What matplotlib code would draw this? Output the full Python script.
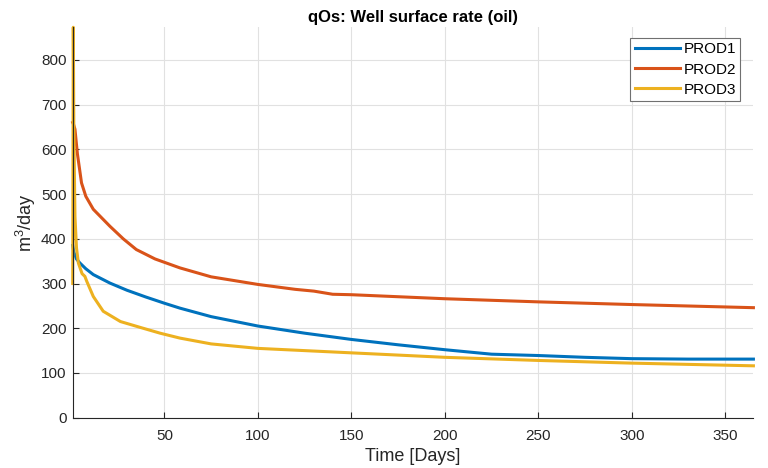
import matplotlib.pyplot as plt

plt.rcParams['font.family'] = ['Liberation Sans', 'DejaVu Sans']
plt.rcParams['mathtext.fontset'] = 'custom'
plt.rcParams['mathtext.rm'] = 'Liberation Sans'
plt.rcParams['mathtext.it'] = 'Liberation Sans'

# oil surface rates per producer, m3/day
days_p1 = [1, 1.6, 3, 4.8, 8, 12, 20.9, 30, 40, 50, 58.3, 75, 100, 125, 150, 175, 200, 225, 250, 275, 300, 330, 365]
rate_p1 = [385, 370, 355, 346, 333, 320, 301, 285, 270, 256, 245, 226, 205, 189, 175, 163, 152, 142, 139, 135, 132, 131, 131]

days_p2 = [1, 1.5, 2.2, 3.5, 5.7, 8, 12, 20.9, 28, 35, 45, 58.3, 75, 100, 120, 130, 140, 150, 200, 250, 300, 365]
rate_p2 = [660, 655, 645, 590, 525, 495, 466, 428, 400, 376, 355, 335, 315, 298, 287, 283, 276, 275, 266, 259, 253, 246]

days_p3 = [1, 1.3, 1.6, 2.2, 3, 4, 6, 7.5, 8.5, 12, 17.3, 26.5, 37, 47.7, 58.3, 75, 100, 150, 200, 250, 300, 365]
rate_p3 = [300, 873, 640, 450, 380, 346, 322, 316, 305, 271, 238, 215, 202, 189, 178, 165, 155, 145, 135, 128, 122, 116]

names = ['PROD1', 'PROD2', 'PROD3']
colors = ['#0072BD', '#D95319', '#EDB120']

fig = plt.figure(figsize=(7.68, 4.68), dpi=100)
ax = fig.add_axes([0.0947, 0.1075, 0.981 - 0.0947, 0.9417 - 0.1075])

for d, r, n, c in zip([days_p1, days_p2, days_p3], [rate_p1, rate_p2, rate_p3], names, colors):
    ax.plot(d, r, color=c, lw=2.2, label=n, clip_on=False, solid_joinstyle='round')

ax.set_xlim(1, 365)
ax.set_ylim(0, 873)
ax.set_xticks(range(50, 351, 50))
ax.set_yticks(range(0, 801, 100))
ax.grid(True, color='#e1e1e1', lw=0.8)
ax.set_axisbelow(True)
for s in ['top', 'right']:
    ax.spines[s].set_visible(False)
for s in ['left', 'bottom']:
    ax.spines[s].set_color('#262626')
    ax.spines[s].set_linewidth(0.8)
ax.tick_params(direction='in', length=4, labelsize=11, colors='#262626')
ax.tick_params(axis='x', pad=8)
ax.tick_params(axis='y', pad=4.5)

ax.set_title('qOs: Well surface rate (oil)', fontsize=12, fontweight='bold', color='#000000', pad=4)
ax.set_xlabel('Time [Days]', fontsize=13, color='#262626', labelpad=4)
ax.set_ylabel('m$^{3}$/day', fontsize=13, color='#262626', labelpad=2)

leg = ax.legend(loc='upper right', bbox_to_anchor=(0.981, 0.973), fontsize=11, fancybox=False,
                framealpha=1, edgecolor='#707070', handlelength=3.0, borderpad=0.3,
                labelspacing=0.4, handletextpad=0.2, borderaxespad=0)
leg.get_frame().set_linewidth(0.8)

fig.savefig('out.png', dpi=100)
